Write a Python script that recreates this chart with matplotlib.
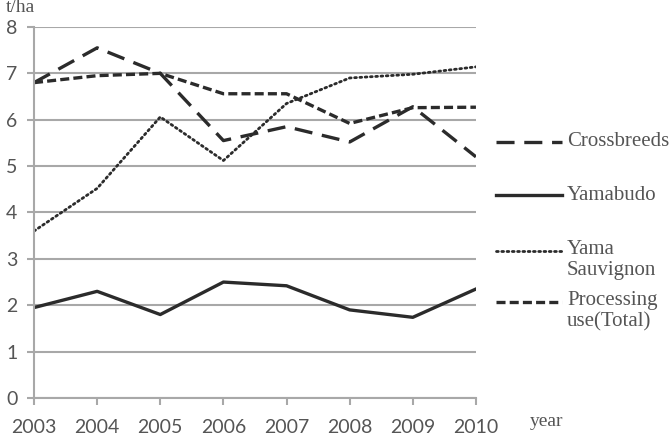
import matplotlib.pyplot as plt
from matplotlib.lines import Line2D

# --- Data (t/ha) ---
years = [2003, 2004, 2005, 2006, 2007, 2008, 2009, 2010]
crossbreeds = [6.8, 7.55, 7.0, 5.55, 5.85, 5.52, 6.28, 5.2]
yamabudo = [1.95, 2.3, 1.8, 2.5, 2.42, 1.9, 1.74, 2.35]
yama_sauvignon = [3.6, 4.52, 6.06, 5.12, 6.35, 6.9, 6.98, 7.14]
processing_total = [6.8, 6.95, 7.0, 6.56, 6.56, 5.92, 6.26, 6.27]
legend_labels = ['Crossbreeds', 'Yamabudo', 'Yama\nSauvignon', 'Processing\nuse(Total)']

# --- Style ---
plt.rcParams['lines.scale_dashes'] = False
line_col = '#2b2b2b'
grid_col = '#a8a8a8'
text_col = '#555555'

fig = plt.figure(figsize=(6.71, 4.42), dpi=100)
ax = fig.add_axes([0.0507, 0.0995, 0.6586, 0.8395])

styles = [
    dict(color=line_col, lw=2.4, dashes=(13, 7)),
    dict(color=line_col, lw=2.4, linestyle='-'),
    dict(color=line_col, lw=2.0, dashes=(1.3, 2.5), dash_capstyle='round'),
    dict(color=line_col, lw=2.4, dashes=(6.5, 3)),
]
series = [crossbreeds, yamabudo, yama_sauvignon, processing_total]

for vals, st in zip(series, styles):
    ax.plot(years, vals, solid_joinstyle='round', **st)

ax.set_xlim(years[0], years[-1])
ax.set_ylim(0, 8)
ax.set_yticks(range(0, 9))
ax.set_xticks(years)
ax.grid(axis='y', color=grid_col, lw=1.5)
ax.set_axisbelow(True)
for s in ['top', 'right']:
    ax.spines[s].set_visible(False)
ax.spines['left'].set_color(grid_col)
ax.spines['left'].set_linewidth(1.5)
ax.spines['bottom'].set_color(grid_col)
ax.spines['bottom'].set_linewidth(1.5)
ax.tick_params(axis='both', colors=grid_col, width=1.5, length=5,
               labelcolor=text_col, labelsize=14)
ax.tick_params(axis='y', pad=7)
ax.tick_params(axis='x', pad=10)
for lab in ax.get_xticklabels() + ax.get_yticklabels():
    lab.set_fontfamily('Lato')

# axis titles
fig.text(6 / 671, 1 - 8 / 442, 't/ha', family='Liberation Serif', fontsize=14,
         color=text_col, ha='left', va='center')
fig.text(530 / 671, 1 - 421 / 442, 'year', family='Liberation Serif', fontsize=14,
         color=text_col, ha='left', va='center')

# --- Legend drawn by hand so handles sit on the first text line ---
leg_y = [142, 195, 251, 302]
for lab, st, y in zip(legend_labels, styles, leg_y):
    yf = 1 - y / 442
    fig.add_artist(Line2D([496 / 671, 562 / 671], [yf, yf], transform=fig.transFigure, **st))
    if '\n' in lab:
        fig.text(567 / 671, 1 - (y - 11) / 442, lab, family='Liberation Serif',
                 fontsize=15, color=text_col, ha='left', va='top', linespacing=1.15)
    else:
        fig.text(567 / 671, yf, lab, family='Liberation Serif', fontsize=15,
                 color=text_col, ha='left', va='center')

plt.savefig('out.png', dpi=100)
